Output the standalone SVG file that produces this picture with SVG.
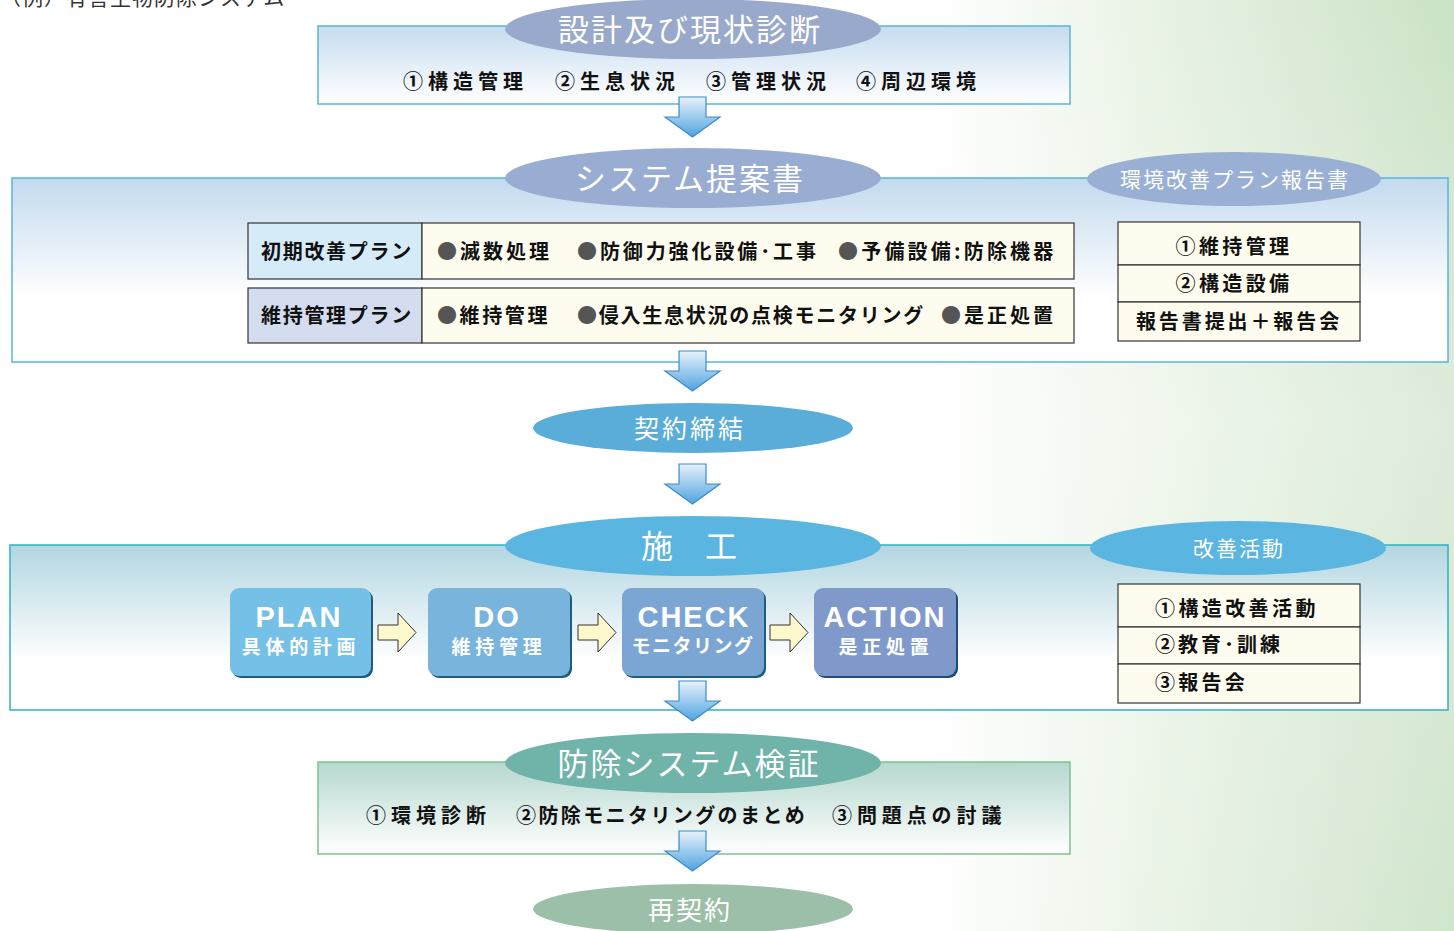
<svg xmlns="http://www.w3.org/2000/svg" width="1454" height="931" viewBox="0 0 1454 931">
<defs>
<linearGradient id="bg" x1="0" y1="0" x2="1" y2="0">
<stop offset="0" stop-color="#ffffff"/>
<stop offset="0.64" stop-color="#ffffff"/>
<stop offset="0.8" stop-color="#e8f2e4"/>
<stop offset="1" stop-color="#cbe2c7"/>
</linearGradient>
<linearGradient id="bgv" x1="0" y1="0" x2="0" y2="1">
<stop offset="0" stop-color="#ffffff" stop-opacity="0"/>
<stop offset="0.45" stop-color="#ffffff" stop-opacity="0.35"/>
<stop offset="1" stop-color="#ffffff" stop-opacity="0.1"/>
</linearGradient>
<linearGradient id="gBlue" x1="0" y1="0" x2="0" y2="1">
<stop offset="0" stop-color="#c6dcef"/>
<stop offset="1" stop-color="#ffffff"/>
</linearGradient>
<linearGradient id="gBlue2" x1="0" y1="0" x2="0" y2="1">
<stop offset="0" stop-color="#c3daee"/>
<stop offset="0.65" stop-color="#ffffff"/>
<stop offset="1" stop-color="#ffffff"/>
</linearGradient>
<linearGradient id="gTeal" x1="0" y1="0" x2="0" y2="1">
<stop offset="0" stop-color="#b2d6e1"/>
<stop offset="0.7" stop-color="#ffffff"/>
<stop offset="1" stop-color="#ffffff"/>
</linearGradient>
<linearGradient id="gGreen" x1="0" y1="0" x2="0" y2="1">
<stop offset="0" stop-color="#b6d8cf"/>
<stop offset="1" stop-color="#ffffff"/>
</linearGradient>
<linearGradient id="gArrow" x1="0" y1="0" x2="0" y2="1">
<stop offset="0" stop-color="#e8f2fb"/>
<stop offset="1" stop-color="#4fa3de"/>
</linearGradient>
<path id="downArrow" d="M-13.5,0 H13.5 V20 H27.5 L0,40 L-27.5,20 H-13.5 Z"/>
<path id="rightArrow" d="M0,0 H20 V-12 L38,7.5 L20,27 V15 H0 Z"/>
</defs>
<style>
.jp{font-family:"Noto Sans CJK JP","Noto Sans",sans-serif;}
.title{fill:#ffffff;font-weight:400;text-anchor:middle;}
.item{fill:#111111;font-weight:700;font-size:20px;}
.cell{fill:#111111;font-weight:700;font-size:20px;}
.dot{fill:#555555;}
.frame{stroke-width:1.5;}
.tbl{fill:#fefcee;stroke:#333333;stroke-width:1.2;}
.pd{font-family:"Liberation Sans",Arial,sans-serif;font-weight:700;fill:#ffffff;font-size:29px;text-anchor:middle;}
.pds{fill:#ffffff;font-weight:700;font-size:19px;text-anchor:middle;}
.arr{fill:url(#gArrow);stroke:#3a8ccb;stroke-width:1.2;}
.yarr{fill:#fdf9cc;stroke:#333333;stroke-width:1;}
</style>
<rect x="0" y="0" width="1454" height="931" fill="url(#bg)"/>
<rect x="0" y="0" width="1454" height="931" fill="url(#bgv)"/>
<text x="0" y="5" class="jp" font-size="21" fill="#333333" letter-spacing="1">（例）有害生物防除システム</text>

<g id="node-design">
<rect x="318" y="26" width="752" height="78" fill="url(#gBlue)" stroke="#5ab4dc" class="frame"/>
<ellipse cx="693" cy="29" rx="188" ry="30" fill="#99a9cb"/>
<text x="690" y="41" class="jp title" font-size="31" letter-spacing="2">設計及び現状診断</text>
<text x="403" y="89" class="jp item" letter-spacing="5">①構造管理</text>
<text x="555" y="89" class="jp item" letter-spacing="5">②生息状況</text>
<text x="706" y="89" class="jp item" letter-spacing="5">③管理状況</text>
<text x="856" y="89" class="jp item" letter-spacing="5">④周辺環境</text>
</g>

<g id="node-proposal">
<rect x="12" y="178" width="1436" height="184" fill="url(#gBlue2)" stroke="#5ab4dc" class="frame"/>
<ellipse cx="693" cy="178" rx="188" ry="30" fill="#99acd2"/>
<text x="690" y="190" class="jp title" font-size="31" letter-spacing="2">システム提案書</text>
<ellipse cx="1234" cy="179" rx="147" ry="27" fill="#99afd4"/>
<text x="1235" y="187" class="jp title" font-size="21" letter-spacing="2">環境改善プラン報告書</text>
<rect x="248" y="223" width="174" height="56" fill="#d5ebf8" stroke="#333" stroke-width="1.2"/>
<rect x="422" y="223" width="652" height="56" class="tbl"/>
<text x="261" y="259" class="jp cell" letter-spacing="1.7">初期改善プラン</text>
<text x="437" y="259" class="jp cell" letter-spacing="3"><tspan class="dot">●</tspan>滅数処理</text>
<text x="577" y="259" class="jp cell" letter-spacing="2.9"><tspan class="dot">●</tspan>防御力強化設備･工事</text>
<text x="838" y="259" class="jp cell" letter-spacing="3.2"><tspan class="dot">●</tspan>予備設備:防除機器</text>
<rect x="248" y="288" width="174" height="55" fill="#d3ddef" stroke="#333" stroke-width="1.2"/>
<rect x="422" y="288" width="652" height="55" class="tbl"/>
<text x="261" y="323" class="jp cell" letter-spacing="1.7">維持管理プラン</text>
<text x="437" y="323" class="jp cell" letter-spacing="2.6"><tspan class="dot">●</tspan>維持管理</text>
<text x="577" y="323" class="jp cell" letter-spacing="1.75"><tspan class="dot">●</tspan>侵入生息状況の点検モニタリング</text>
<text x="941" y="323" class="jp cell" letter-spacing="3"><tspan class="dot">●</tspan>是正処置</text>
<rect x="1118" y="222" width="242" height="43" class="tbl"/>
<rect x="1118" y="265" width="242" height="37" class="tbl"/>
<rect x="1118" y="302" width="242" height="39" class="tbl"/>
<text x="1234" y="254" class="jp cell" text-anchor="middle" letter-spacing="3.4">①維持管理</text>
<text x="1234" y="291" class="jp cell" text-anchor="middle" letter-spacing="3.4">②構造設備</text>
<text x="1239" y="329" class="jp cell" text-anchor="middle" letter-spacing="2.9">報告書提出＋報告会</text>
</g>

<g id="node-contract">
<ellipse cx="693" cy="428" rx="160" ry="25" fill="#5aadd9"/>
<text x="690" y="438" class="jp title" font-size="25" letter-spacing="3">契約締結</text>
</g>

<g id="node-construction">
<rect x="10" y="545" width="1438" height="165" fill="url(#gTeal)" stroke="#2ab2c2" class="frame"/>
<ellipse cx="693" cy="546" rx="188" ry="30" fill="#5ab6e0"/>
<text x="689" y="558" class="jp title" font-size="32" xml:space="preserve">施　工</text>
<ellipse cx="1238" cy="548" rx="148" ry="27" fill="#5ab6e0"/>
<text x="1239" y="556" class="jp title" font-size="21" letter-spacing="2">改善活動</text>
<rect x="1118" y="584" width="242" height="43" class="tbl"/>
<rect x="1118" y="627" width="242" height="37" class="tbl"/>
<rect x="1118" y="664" width="242" height="39" class="tbl"/>
<text x="1155" y="616" class="jp cell" letter-spacing="3.4">①構造改善活動</text>
<text x="1155" y="652" class="jp cell" letter-spacing="3">②教育･訓練</text>
<text x="1155" y="690" class="jp cell" letter-spacing="3.25">③報告会</text>
</g>

<g id="node-plan">
<rect x="232" y="590" width="141" height="88" rx="9" fill="#1f5d7e"/>
<rect x="230" y="588" width="141" height="88" rx="9" fill="#75c0e7"/>
<text x="299" y="627" class="pd" letter-spacing="2">PLAN</text>
<text x="301" y="654" class="jp pds" letter-spacing="4.7">具体的計画</text>
</g>
<g id="node-do">
<rect x="430" y="590" width="142" height="88" rx="9" fill="#1f5d7e"/>
<rect x="428" y="588" width="142" height="88" rx="9" fill="#79b4dc"/>
<text x="497" y="627" class="pd" letter-spacing="2">DO</text>
<text x="499" y="654" class="jp pds" letter-spacing="4.7">維持管理</text>
</g>
<g id="node-check">
<rect x="624" y="590" width="142" height="88" rx="9" fill="#1f5d7e"/>
<rect x="622" y="588" width="142" height="88" rx="9" fill="#7ba6d4"/>
<text x="694" y="627" class="pd" letter-spacing="2">CHECK</text>
<text x="693" y="653" class="jp pds" font-size="18" letter-spacing="1.5">モニタリング</text>
</g>
<g id="node-action">
<rect x="816" y="590" width="142" height="88" rx="9" fill="#1f4d76"/>
<rect x="814" y="588" width="142" height="88" rx="9" fill="#7f9aca"/>
<text x="885" y="627" class="pd" letter-spacing="2">ACTION</text>
<text x="886" y="654" class="jp pds" letter-spacing="4.7">是正処置</text>
</g>

<g id="node-verify">
<rect x="318" y="762" width="752" height="92" fill="url(#gGreen)" stroke="#7cc48a" class="frame"/>
<ellipse cx="693" cy="763" rx="188" ry="30" fill="#6fb3a9"/>
<text x="689" y="775" class="jp title" font-size="31" letter-spacing="2">防除システム検証</text>
<text x="366" y="823" class="jp item" letter-spacing="5">①環境診断</text>
<text x="516" y="823" class="jp item" letter-spacing="2.4">②防除モニタリングのまとめ</text>
<text x="832" y="823" class="jp item" letter-spacing="4.9">③問題点の討議</text>
</g>

<g id="node-recontract">
<ellipse cx="693" cy="909" rx="160" ry="25" fill="#9bbfa8"/>
<text x="690" y="920" class="jp title" font-size="26" letter-spacing="2">再契約</text>
</g>

<g id="connectors">
<use href="#downArrow" x="692.5" y="97" class="arr"/>
<use href="#downArrow" x="692.5" y="351" class="arr"/>
<use href="#downArrow" x="692.5" y="464" class="arr"/>
<use href="#downArrow" x="692.5" y="681" class="arr"/>
<use href="#downArrow" x="692.5" y="831" class="arr"/>
<use href="#rightArrow" x="378" y="625" class="yarr"/>
<use href="#rightArrow" x="578" y="625" class="yarr"/>
<use href="#rightArrow" x="770" y="625" class="yarr"/>
</g>
</svg>
